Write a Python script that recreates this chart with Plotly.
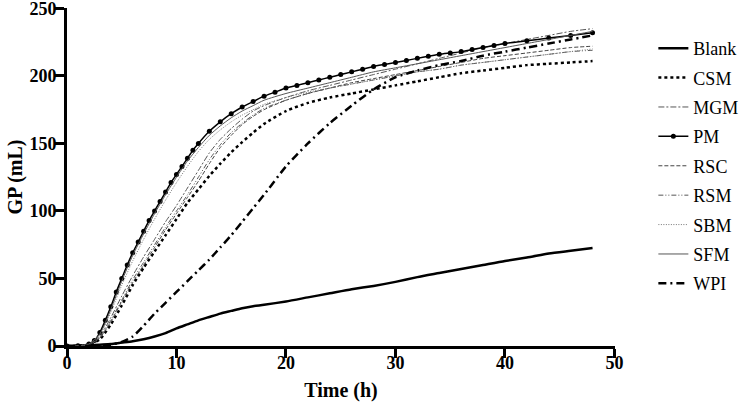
import plotly.graph_objects as go

# Time points (h)
T = [0, 1, 2, 3, 4, 5, 6, 7, 8, 9, 10, 11, 12, 13, 14, 15, 16, 17, 18,
     20, 22, 24, 26, 28, 30, 32, 34, 36, 38, 40, 42, 44, 46, 48]

blank = [0, 0.2, 0.5, 1, 1.5, 2.5, 3.5, 5, 7, 9.5, 13, 16, 19, 21.5, 24, 26, 28, 29.5, 30.5,
         33, 36, 39, 42, 44.5, 47.5, 51, 54, 57, 60, 63, 65.5, 68.5, 70.5, 72.5]
csm = [0, 0.2, 1, 5, 16, 30, 45, 58, 70, 82, 94, 106, 116, 126, 135, 143.5, 151, 158, 164.5,
       174, 180, 184, 187, 190, 193, 196, 199, 202, 204, 206, 208, 209, 210, 211]
mgm = [0, 0.2, 1.2, 7, 21, 37, 52, 66, 79, 92, 104, 117, 130, 143, 153, 161, 168, 174, 178,
       184, 189, 193, 197, 201, 205, 209, 213, 217, 221, 224, 227, 230, 233, 235]
rsc = [0, 0.2, 1, 6, 18, 33, 47, 60, 73, 86, 98, 110, 122, 135, 147, 156, 164, 170, 175,
       182, 187, 191, 195, 198, 201, 204, 207, 210, 213, 215, 217, 219, 221, 222]
rsm = [0, 0.2, 1, 6, 19, 34, 49, 62, 75, 88, 100, 112, 125, 138, 149, 158, 165, 171, 176,
       182, 187, 191, 194, 197, 200, 203, 205, 208, 210, 212, 214, 216, 218, 219]
sbm = [0, 0.2, 1.5, 8, 25, 45, 63, 79, 94, 108, 121, 133, 144, 153, 160, 166, 171, 175, 179,
       184, 188, 191, 194, 197, 200, 203, 205, 208, 210, 212, 214, 216, 218, 220]
sfm = [0, 0.2, 1.5, 9, 27, 48, 67, 83, 98, 112, 125, 137, 147, 156, 163, 169, 174, 178, 182,
       187, 191, 195, 199, 203, 206, 209, 212, 215, 218, 221, 224, 227, 230, 233]
wpi = [0, 0, 0, 0.5, 1, 3, 7, 15, 24, 32, 40, 48, 56, 64, 73, 82, 92, 102, 112,
       133, 150, 165, 178, 190, 199, 204, 208, 211, 215, 218, 221, 224, 227, 230]

# PM has denser sampling (markers)
T_pm = [0, 1, 2, 2.5, 3, 3.5, 4, 4.5, 5, 5.5, 6, 6.5, 7, 7.5, 8, 8.5, 9, 9.5, 10, 10.5, 11, 11.5, 12,
        13, 14, 15, 16, 17, 18, 19, 20, 21, 22, 23, 24, 25, 26, 27, 28, 29, 30, 31, 32, 33, 34,
        35, 36, 37, 38, 39, 40, 42, 44, 46, 48]
pm = [0, 0.2, 1.5, 4, 10, 19, 29, 40, 50, 60, 69, 77, 85, 93, 100, 107, 114, 121, 127, 133, 139, 145, 150,
      159, 166, 172, 177, 181, 185, 188, 191, 193, 195, 197, 199, 201, 203, 205, 207, 208.5, 210,
      211.5, 213, 214.5, 216, 217, 218, 219.5, 221, 222.5, 224, 226, 228, 230, 232]

x_ticks = [0, 10, 20, 30, 40, 50]
y_ticks = [0, 50, 100, 150, 200, 250]

FONT = "Liberation Serif, Times New Roman, serif"

series = [
    ("Blank", T, blank, dict(color="black", width=2.5, dash="solid"), None),
    ("CSM", T, csm, dict(color="black", width=2.5, dash="dot"), None),
    ("MGM", T, mgm, dict(color="#555555", width=1, dash="6px,2px,2px,2px"), None),
    ("PM", T_pm, pm, dict(color="black", width=1.5, dash="solid"), dict(size=5, color="black")),
    ("RSC", T, rsc, dict(color="#444444", width=1, dash="4px,2px"), None),
    ("RSM", T, rsm, dict(color="#555555", width=1, dash="5px,2px,1px,2px,1px,2px"), None),
    ("SBM", T, sbm, dict(color="#777777", width=1, dash="1px,1.5px"), None),
    ("SFM", T, sfm, dict(color="#555555", width=1, dash="solid"), None),
    ("WPI", T, wpi, dict(color="black", width=2.5, dash="8px,4px,2px,4px"), None),
]

fig = go.Figure()
for name, x, y, line, marker in series:
    fig.add_trace(go.Scatter(
        x=x, y=y, name=name, legendgroup=name,
        mode="lines+markers" if marker else "lines",
        line=dict(shape="spline", smoothing=0.6, **line),
        marker=marker,
    ))

axis_common = dict(
    showline=True, linewidth=3, linecolor="black",
    ticks="outside", ticklen=9, tickwidth=3, tickcolor="black",
    showgrid=False, zeroline=False, automargin=False,
    ticklabeloverflow="allow",
    tickfont=dict(family=FONT, size=18, color="black", weight="bold"),
)

fig.update_layout(
    width=752, height=416,
    margin=dict(l=67, r=132, t=8, b=70),
    paper_bgcolor="white", plot_bgcolor="white",
    xaxis=dict(range=[0, 50.05], tickvals=x_ticks, ticklabelstandoff=-11,
               title=dict(text="<b>Time (h)</b>", font=dict(family=FONT, size=20, color="black"), standoff=12),
               **axis_common),
    yaxis=dict(range=[0, 250.3], tickvals=y_ticks, ticklabelstandoff=-5,
               title=dict(text="<b>GP (mL)</b>", font=dict(family=FONT, size=20, color="black"), standoff=2),
               **axis_common),
    legend=dict(x=1.07, y=0.935, xanchor="left", yanchor="top",
                font=dict(family=FONT, size=18, color="black"),
                tracegroupgap=3, bgcolor="rgba(0,0,0,0)"),
)

fig.write_html("out.html")
